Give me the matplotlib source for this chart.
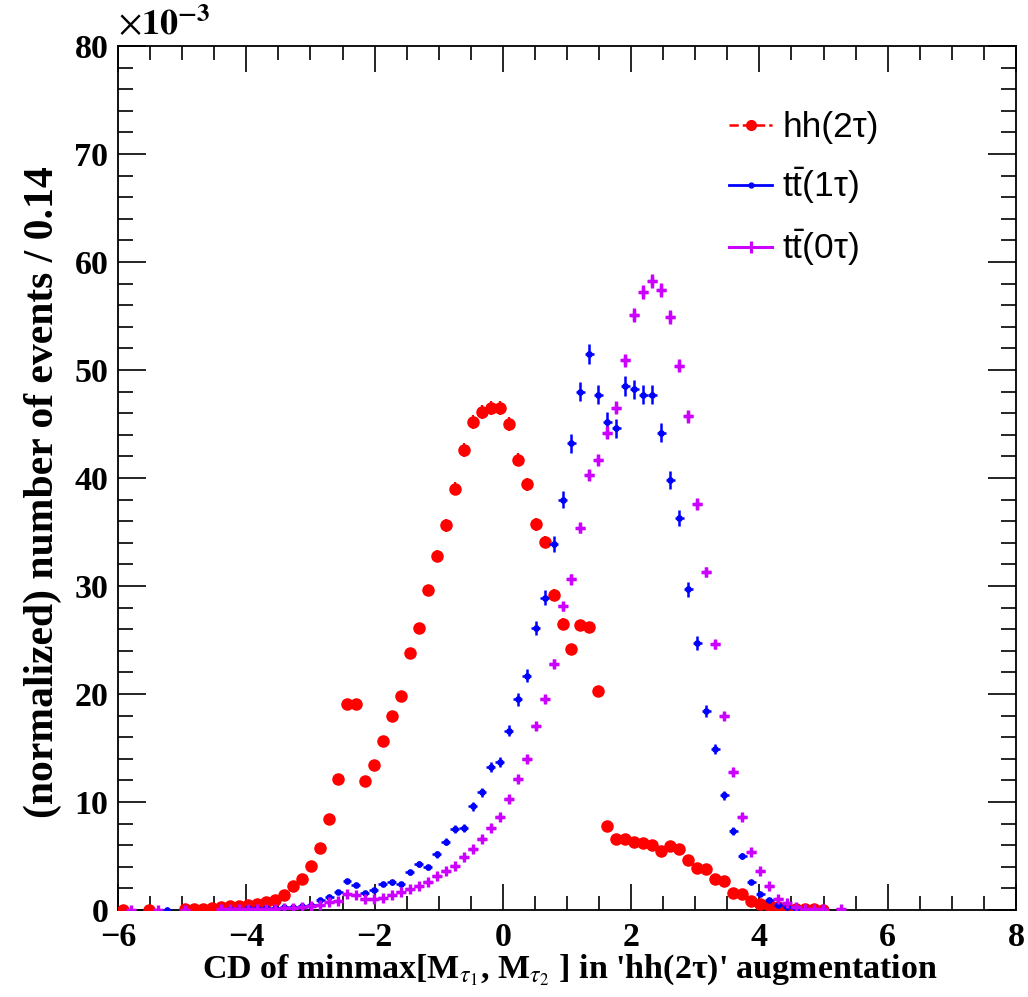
import numpy as np
import matplotlib
matplotlib.use('Agg')
import matplotlib.pyplot as plt
from matplotlib.lines import Line2D
from matplotlib.ticker import MultipleLocator
from matplotlib.font_manager import FontProperties

nan = np.nan

# histogram binning: 100 bins of 0.14 from -6 to 8
x_lo, x_hi, n_bins = -6.0, 8.0, 100
bin_w = (x_hi - x_lo) / n_bins

# normalized bin contents, in units of 1e-3 (nan = empty bin, not drawn)
hh_2tau = [
    0.03, nan, nan, 0.03, nan, nan, nan, 0.05, 0.08, 0.1,
    0.2, 0.3, 0.35, 0.4, 0.45, 0.55, 0.7, 0.9, 1.35, 2.2,
    2.9, 4.1, 5.7, 8.4, 12.1, 19.1, 19.1, 11.9, 13.4, 15.6,
    18.0, 19.8, 23.8, 26.1, 29.6, 32.8, 35.6, 39.0, 42.6, 45.2,
    46.1, 46.45, 46.5, 45.0, 41.7, 39.4, 35.7, 34.1, 29.2, 26.5,
    24.2, 26.4, 26.2, 20.3, 7.8, 6.6, 6.6, 6.3, 6.2, 6.0,
    5.5, 5.9, 5.6, 4.6, 3.85, 3.75, 2.9, 2.7, 1.6, 1.5,
    0.8, 0.55, 0.45, 0.3, 0.15, 0.05, 0.05, 0.05, 0.02, nan,
    nan, nan, nan, nan, nan, nan, nan, nan, nan, nan,
    nan, nan, nan, nan, nan, nan, nan, nan, nan, nan,
]
tt_1tau = [
    nan, nan, nan, nan, nan, 0.03, nan, nan, nan, nan,
    nan, nan, 0.1, 0.1, 0.15, 0.15, 0.2, 0.2, 0.25, 0.3,
    0.35, 0.45, 0.9, 1.2, 1.65, 2.7, 2.3, 1.6, 1.85, 2.4,
    2.55, 2.4, 3.5, 4.25, 3.95, 5.15, 6.3, 7.5, 7.6, 9.6,
    10.9, 13.2, 13.7, 16.6, 19.5, 21.7, 26.1, 28.9, 33.9, 38.0,
    43.2, 48.0, 51.5, 47.7, 45.2, 44.6, 48.5, 48.2, 47.7, 47.7,
    44.2, 39.8, 36.3, 29.7, 24.75, 18.4, 14.9, 10.6, 7.3, 5.0,
    2.6, 1.5, 0.9, 0.45, 0.25, 0.1, 0.05, nan, nan, nan,
    nan, nan, nan, nan, nan, nan, nan, nan, nan, nan,
    nan, nan, nan, nan, nan, nan, nan, nan, nan, nan,
]
tt_0tau = [
    nan, 0.03, nan, nan, 0.03, nan, nan, 0.03, nan, nan,
    nan, 0.05, 0.05, 0.05, 0.08, 0.1, 0.1, 0.12, 0.15, 0.18,
    0.25, 0.35, 0.45, 0.7, 0.85, 1.45, 1.35, 1.0, 1.0, 1.15,
    1.4, 1.65, 1.9, 2.2, 2.6, 3.1, 3.6, 4.1, 4.9, 5.6,
    6.6, 7.6, 8.6, 10.3, 12.1, 13.95, 17.0, 19.5, 22.8, 28.1,
    30.6, 35.4, 40.3, 41.7, 44.2, 46.5, 50.9, 55.1, 57.25, 58.2,
    57.4, 54.9, 50.4, 45.7, 37.6, 31.3, 24.6, 18.0, 12.75, 8.6,
    5.4, 3.65, 2.2, 1.0, 0.6, 0.3, 0.1, 0.05, 0.05, nan,
    0.05, nan, nan, nan, nan, nan, nan, nan, nan, nan,
    nan, nan, nan, nan, nan, nan, nan, nan, nan, nan,
]
# approximate raw event counts, used for the statistical error bars
n_events = {'hh': 110000, 'tt1': 60000, 'tt0': 137000}

labels = ['hh(2τ)', r'$\mathrm{t\bar{t}}$(1τ)', r'$\mathrm{t\bar{t}}$(0τ)']
colors = ['#ff0000', '#0000ff', '#cc00ff']

plt.rcParams['mathtext.fontset'] = 'custom'
plt.rcParams['mathtext.rm'] = 'Liberation Sans'
plt.rcParams['mathtext.it'] = 'Liberation Sans:italic'

centers = x_lo + bin_w * (np.arange(n_bins) + 0.5)


def stat_err(vals, n):
    f = np.asarray(vals) * 1e-3
    return np.sqrt(f / n) * 1e3


fig = plt.figure(figsize=(10.28, 9.97), dpi=100)
ax = fig.add_axes([0.1148, 0.0873, 0.8735, 0.8666])

# draw order: red first, then blue, magenta on top
ax.errorbar(centers, hh_2tau, yerr=stat_err(hh_2tau, n_events['hh']), xerr=bin_w / 2,
            fmt='o', color=colors[0], ms=8, elinewidth=1.6, capsize=0, zorder=3)
ax.errorbar(centers, tt_1tau, yerr=stat_err(tt_1tau, n_events['tt1']), xerr=bin_w / 2,
            fmt='o', color=colors[1], ms=3.8, elinewidth=1.8, capsize=0, zorder=4)
ax.errorbar(centers, tt_0tau, yerr=stat_err(tt_0tau, n_events['tt0']), xerr=bin_w / 2,
            fmt='+', color=colors[2], ms=7.5, mew=2.4, elinewidth=2.4, capsize=0, zorder=5)

ax.set_xlim(x_lo, x_hi)
ax.set_ylim(0, 80)

tick_font = FontProperties(family='Liberation Serif', weight='bold', size=24.5)
ax.xaxis.set_major_locator(MultipleLocator(2))
ax.xaxis.set_minor_locator(MultipleLocator(0.5))
ax.yaxis.set_major_locator(MultipleLocator(10))
ax.yaxis.set_minor_locator(MultipleLocator(2))
ax.tick_params(which='both', direction='in', top=True, right=True, width=1.2, colors='black')
ax.tick_params(axis='x', which='major', length=19, pad=9)
ax.tick_params(axis='x', which='minor', length=10)
ax.tick_params(axis='y', which='major', length=20, pad=7)
ax.tick_params(axis='y', which='minor', length=10.8)
for lab in ax.get_xticklabels() + ax.get_yticklabels():
    lab.set_fontproperties(tick_font)
for sp in ax.spines.values():
    sp.set_linewidth(1.3)

ax.text(0.0, 1.005, r'$\times\mathbf{10}^{\mathbf{-3}}$', transform=ax.transAxes,
        ha='left', va='bottom', fontsize=26, math_fontfamily='stix')

ax.set_xlabel(r"CD of minmax[M$_{\tau_{1}}$, M$_{\tau_{2}}$ ] in 'hh(2τ)' augmentation",
              family='Liberation Serif', weight='bold', fontsize=24.5, math_fontfamily='stix')
ax.xaxis.set_label_coords(0.503, -0.050)
ax.set_ylabel('(normalized) number of events / 0.14',
              family='Liberation Serif', weight='bold', fontsize=30)
ax.yaxis.set_label_coords(-0.0624, 0.484)

handles = [
    Line2D([], [], color=colors[0], ls='--', lw=1.8, marker='o', ms=7),
    Line2D([], [], color=colors[1], ls='-', lw=2.0, marker='o', ms=3.5),
    Line2D([], [], color=colors[2], ls='-', lw=2.2, marker='|', ms=8, mew=2.3),
]
ax.legend(handles, labels, loc='upper left', bbox_to_anchor=(0.661, 0.945), frameon=False,
          borderpad=0, prop=dict(family='Liberation Sans', size=25.5), handlelength=1.2,
          handletextpad=0.3, labelspacing=0.6)

fig.savefig('out.png', dpi=100)
